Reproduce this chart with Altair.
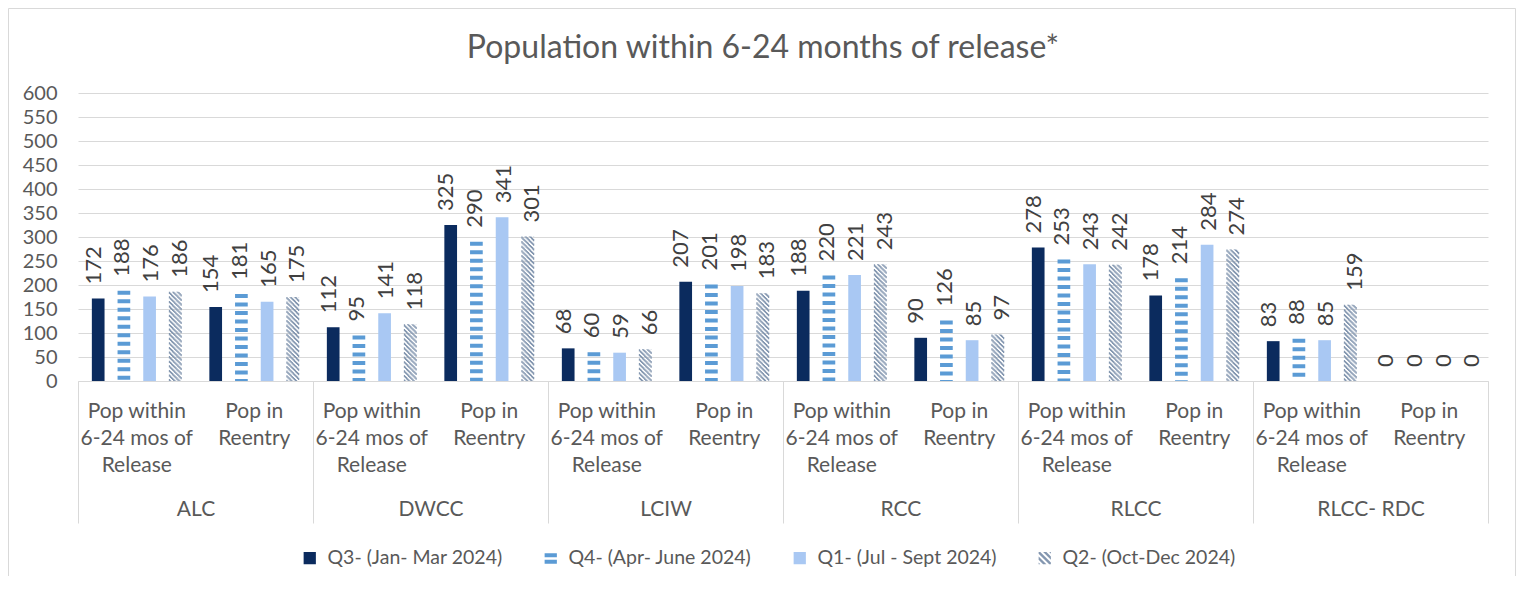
import altair as alt
import pandas as pd

# ---------------- data ----------------
facilities = ["ALC", "DWCC", "LCIW", "RCC", "RLCC", "RLCC- RDC"]
subcats = ["Pop within 6-24 mos of Release", "Pop in Reentry"]
sub_label_lines = [["Pop within", "6-24 mos of", "Release"], ["Pop in", "Reentry"]]
series = ["Q3- (Jan- Mar 2024)", "Q4- (Apr- June 2024)",
          "Q1- (Jul - Sept 2024)", "Q2- (Oct-Dec 2024)"]
# values in facility order, (within, reentry) for each facility
q3 = [172, 154, 112, 325, 68, 207, 188, 90, 278, 178, 83, 0]
q4 = [188, 181, 95, 290, 60, 201, 220, 126, 253, 214, 88, 0]
q1 = [176, 165, 141, 341, 59, 198, 221, 85, 243, 284, 85, 0]
q2 = [186, 175, 118, 301, 66, 183, 243, 97, 242, 274, 159, 0]
y_ticks = list(range(0, 601, 50))
title_text = "Population within 6-24 months of release*"

keys = [f"{f}|{s}" for f in facilities for s in subcats]
rows = []
for sname, vals in zip(series, [q3, q4, q1, q2]):
    for k, v in zip(keys, vals):
        rows.append({"key": k, "series": sname, "value": v})
df = pd.DataFrame(rows)
fac_df = pd.DataFrame({"fac": facilities})

# ---------------- styling ----------------
W, H = 1410, 288
PAD = {"left": 70, "top": 85, "right": 28, "bottom": 195}
FONT = "Lato"
GRID = "#D9D9D9"
TXT = "#595959"
colors = ["#0B2B5E", "#5B9BD5", "#A9C8F3", "#8497B0"]

P_IN, P_OUT = 0.506, 0.539
band = W / len(keys)
step = band / (len(series) - P_IN + 2 * P_OUT)
bw = step * (1 - P_IN)
q2_start = P_OUT * step + 3 * step

# hatch columns for the Q2 bars
NCOL = 12
cw = bw / NCOL
col_names = [f"c{i}" for i in range(NCOL)]
HP, HD = 4.6, 2.3

# label expression for sub-category axis
conds = []
for s, lines in zip(subcats, sub_label_lines):
    arr = "[" + ",".join("'" + l + "'" for l in lines) + "]"
    conds.append((s, arr))
label_expr = f"split(datum.label,'|')[1] == '{conds[1][0]}' ? {conds[1][1]} : {conds[0][1]}"

xscale = alt.Scale(domain=keys, paddingInner=0, paddingOuter=0)
sub_axis = alt.Axis(orient="bottom", title=None, ticks=False, tickSize=0,
                    domain=True, domainColor=GRID, domainWidth=1,
                    labelAngle=0, labelFont=FONT, labelFontSize=21,
                    labelColor=TXT, labelPadding=19, labelLineHeight=27,
                    labelBaseline="top", labelOverlap=False, labelLimit=0,
                    labelExpr=label_expr)
X = alt.X("key:N", scale=xscale, axis=sub_axis, sort=keys)
y_axis = alt.Axis(title=None, values=y_ticks, domain=False, ticks=False,
                  grid=True, gridColor=GRID, gridWidth=1, labelFont=FONT,
                  labelFontSize=20, labelColor=TXT, labelPadding=21)
Y = alt.Y("value:Q", scale=alt.Scale(domain=[0, 600], nice=False), axis=y_axis)
Y2 = alt.Y2("zero:Q")


def ser_off():
    return alt.XOffset("series:N",
                       scale=alt.Scale(domain=series, paddingInner=P_IN,
                                       paddingOuter=P_OUT))


base = alt.Chart(df).transform_calculate(zero="0")

layers = []
# chart-area frame (decoration, light grey border like the source)
frame = alt.Chart(pd.DataFrame({"f": [0]})).mark_rect(
    fill="white", fillOpacity=0, stroke=GRID, strokeWidth=1
).encode(
    x=alt.value(-PAD["left"] + 0.5), x2=alt.value(W + PAD["right"] - 0.5),
    y=alt.value(-PAD["top"] + 0.5), y2=alt.value(H + PAD["bottom"] + 20),
)
layers.append(frame)
# solid bars
for idx in (0, 2):
    layers.append(
        base.transform_filter(alt.datum.series == series[idx])
        .mark_bar(color=colors[idx])
        .encode(x=X, xOffset=ser_off(), y=Y)
    )
# horizontal stripes (Q4)
layers.append(
    base.transform_filter(alt.datum.series == series[1])
    .mark_rule(color=colors[1], strokeWidth=bw, strokeDash=[4, 4.5])
    .encode(x=X, xOffset=ser_off(), y=Y, y2=Y2)
)
# diagonal hatch (Q2)
col_scale = alt.Scale(domain=col_names, range=[q2_start, q2_start + bw],
                      paddingInner=0, paddingOuter=0)
for i, cname in enumerate(col_names):
    off = (HP - (i * cw) % HP) % HP
    layers.append(
        base.transform_filter(alt.datum.series == series[3])
        .transform_calculate(col=f"'{cname}'")
        .mark_rule(color=colors[3], strokeWidth=cw * 1.2,
                   strokeDash=[HD, HP - HD], strokeDashOffset=off)
        .encode(x=X, xOffset=alt.XOffset("col:N", scale=col_scale), y=Y, y2=Y2)
    )
# data labels
layers.append(
    base.mark_text(angle=270, align="left", baseline="middle", dx=14,
                   font=FONT, fontSize=22, color="#404040")
    .encode(x=X, xOffset=ser_off(), y=Y, text="value:Q")
)


# legend (custom symbols)
def clip(poly, a, b, c):
    out = []
    n = len(poly)
    for i in range(n):
        p, q = poly[i], poly[(i + 1) % n]
        fp = a * p[0] + b * p[1] + c
        fq = a * q[0] + b * q[1] + c
        if fp >= 0:
            out.append(p)
        if (fp >= 0) != (fq >= 0):
            t = fp / (fp - fq)
            out.append((p[0] + t * (q[0] - p[0]), p[1] + t * (q[1] - p[1])))
    return out


sq = [(-1, -1), (1, -1), (1, 1), (-1, 1)]
hatch_parts = []
for cc in (-2.0, -1.0, 0.0, 1.0, 2.0):
    w = 0.27
    poly = clip(sq, -1, 1, -cc + w)
    poly = clip(poly, 1, -1, cc + w)
    if len(poly) >= 3:
        hatch_parts.append("M" + "L".join(f"{x:.3f},{y:.3f}" for x, y in poly) + "Z")
hatch_path = " ".join(hatch_parts)
square_path = "M-1,-1L1,-1L1,1L-1,1Z"
lines_path = "M-1,-0.8L1,-0.8L1,-0.15L-1,-0.15Z M-1,0.25L1,0.25L1,0.9L-1,0.9Z"
shapes = [square_path, lines_path, square_path, hatch_path]

leg = alt.Legend(orient="none", legendX=222, legendY=455, direction="horizontal",
                 title=None, labelFont=FONT, labelFontSize=19.5, labelColor=TXT,
                 labelLimit=0, symbolSize=150, symbolStrokeWidth=0, labelOffset=8,
                 columnPadding=38, padding=0)
layers.append(
    base.transform_filter("false")
    .mark_point(filled=True, opacity=1, size=150)
    .encode(
        color=alt.Color("series:N", scale=alt.Scale(domain=series, range=colors), legend=leg),
        shape=alt.Shape("series:N", scale=alt.Scale(domain=series, range=shapes), legend=leg),
    )
)

inner = alt.layer(*layers).resolve_scale(xOffset="independent")

fac_axis = alt.Axis(orient="bottom", title=None, domain=False, ticks=True,
                    tickBand="extent", tickSize=142, tickColor=GRID, tickWidth=1,
                    labelAngle=0, labelFont=FONT, labelFontSize=21, labelColor=TXT,
                    labelPadding=-25, labelBaseline="top", labelOverlap=False)
fac_layer = alt.Chart(fac_df).mark_point(opacity=0, size=1).encode(
    x=alt.X("fac:N", scale=alt.Scale(domain=facilities, paddingInner=0, paddingOuter=0),
            axis=fac_axis, sort=facilities)
)

chart = (
    alt.layer(inner, fac_layer)
    .resolve_scale(x="independent")
    .resolve_axis(x="independent")
    .properties(
        width=W, height=H,
        padding=PAD,
        autosize=alt.AutoSizeParams(type="none"),
        background="white",
        title=alt.TitleParams(text=title_text, font=FONT, fontSize=32,
                              fontWeight="normal", color=TXT, anchor="middle",
                              frame="group", dx=-20, offset=-82,
                              baseline="alphabetic"),
    )
    .configure_view(strokeWidth=0)
)

chart.save("out.html", embed_options={"renderer": "svg", "actions": False})
